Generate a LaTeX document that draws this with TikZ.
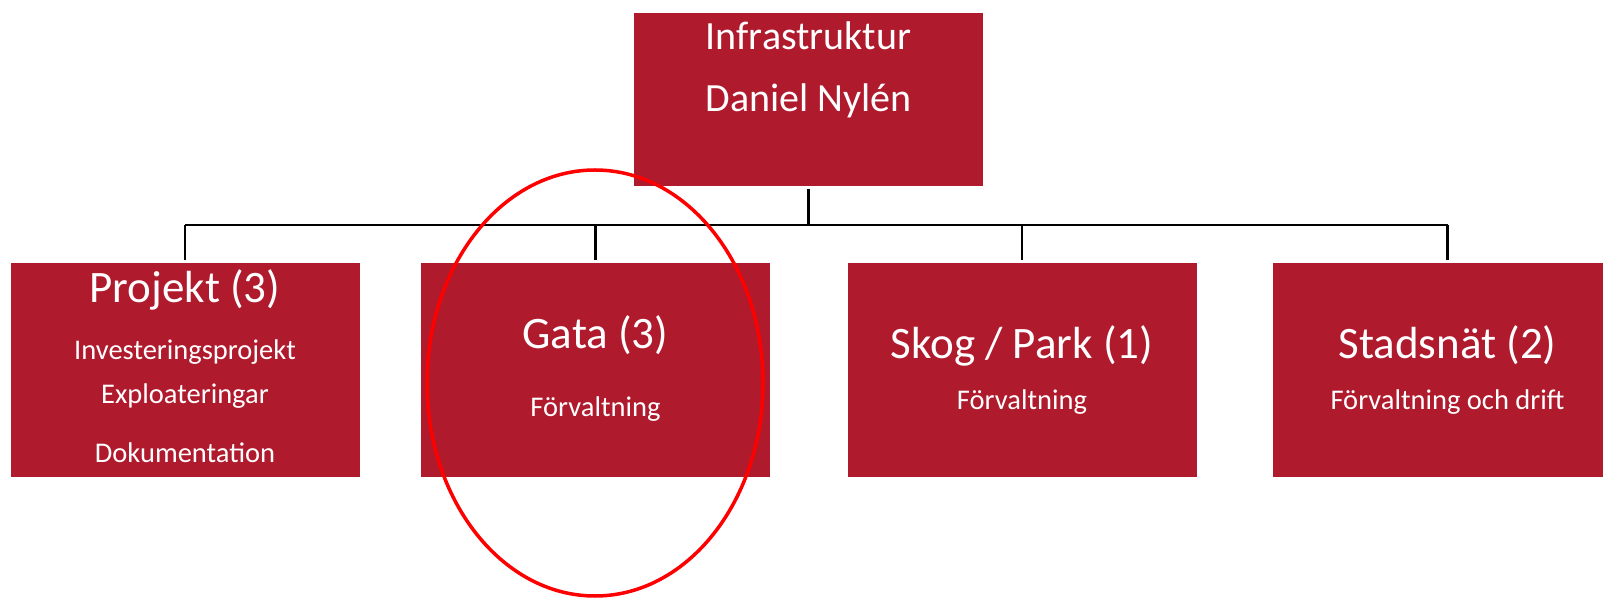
\documentclass[tikz,border=0pt]{standalone}
\usepackage{fontspec}
\setmainfont{Carlito}
\usetikzlibrary{positioning}

\definecolor{boxred}{RGB}{175,26,45}

\begin{document}
\begin{tikzpicture}[x=1pt, y=1pt, thick,
  unitbox/.style={fill=boxred, draw=none, minimum width=349pt, minimum height=214pt, inner sep=0pt, outer sep=3pt},
  head/.style={text=white, anchor=base, inner sep=0pt, font=\fontsize{45}{54}\selectfont},
  sub/.style={text=white, anchor=base, inner sep=0pt, font=\fontsize{28.5}{34}\selectfont},
  link/.style={draw=black, line width=2.8pt}]
  \useasboundingbox (0,0) rectangle (1603,597);

  % Top box
  \node[unitbox, minimum height=173pt] (infra) at (808.5,497.5) {};
  \node[head, font=\fontsize{40}{48}\selectfont] (infratitle) at (808.5,547) {Infrastruktur};
  \node[head, font=\fontsize{40}{48}\selectfont] (chief) at (808.5,485) {Daniel Nylén};

  % Unit boxes
  \node[unitbox] (proj) at (185,227) {};
  \node[unitbox] (gata) at (595.5,227) {};
  \node[unitbox] (skog) at (1022,227) {};
  \node[unitbox] (stad) at (1447.5,227) {};

  % Projekt labels
  \node[head] (projtitle) at (185,294) {Projekt (3)};
  \node[sub] (projinv) at (185,237) {Investeringsprojekt};
  \node[sub] (projexp) at (185,193) {Exploateringar};
  \node[sub] (projdok) at (185,134) {Dokumentation};

  % Gata labels
  \node[head] (gatatitle) at (595.5,248) {Gata (3)};
  \node[sub] (gatasub) at (595.5,180) {Förvaltning};

  % Skog / Park labels
  \node[head] (skogtitle) at (1022,238) {Skog / Park (1)};
  \node[sub] (skogsub) at (1022,187) {Förvaltning};

  % Stadsnät labels
  \node[head] (stadtitle) at (1447.5,238) {Stadsnät (2)};
  \node[sub] (stadsub) at (1447.5,187) {Förvaltning och drift};

  % Connectors
  \coordinate (bus) at (808.5,372);
  \draw[link] (infra.south) -- (bus);
  \draw[link] (proj.north |- bus) -- (stad.north |- bus);
  \foreach \unit in {proj,gata,skog,stad}
    \draw[link] (\unit.north |- bus) -- (\unit.north);

  % Red ellipse round Gata
  \draw[red, line width=3.5pt] (595,214) ellipse (168pt and 213pt);
\end{tikzpicture}
\end{document}
